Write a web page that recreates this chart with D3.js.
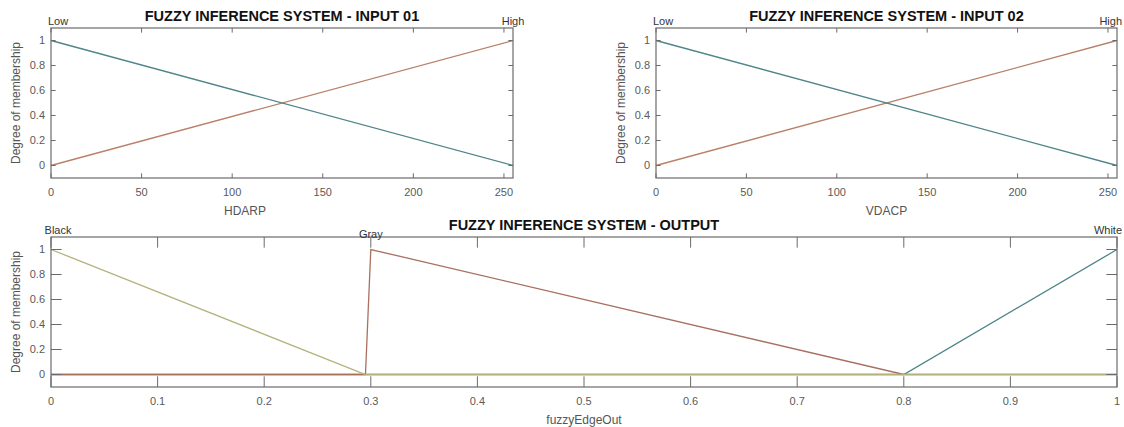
<!DOCTYPE html>
<html>
<head>
<meta charset="utf-8">
<script src="https://cdn.jsdelivr.net/npm/d3@7"></script>
<style>
  body { margin: 0; background: #fff; }
  svg { display: block; font-family: "Liberation Sans", Arial, sans-serif; }
</style>
</head>
<body>
<div id="chart"></div>
<script>
// input 01 / input 02 (same membership functions, range 0..255)
const inputRange = [0, 255];
const inputTicks = [0, 50, 100, 150, 200, 250];
const lowX = [0, 255];
const lowY = [1, 0];
const highX = [0, 255];
const highY = [0, 1];

// output fuzzyEdgeOut, range 0..1
const outputRange = [0, 1];
const outputTicks = [0, 0.1, 0.2, 0.3, 0.4, 0.5, 0.6, 0.7, 0.8, 0.9, 1];
const blackX = [0, 0.295, 1];
const blackY = [1, 0, 0];
const grayX = [0, 0.295, 0.3, 0.8, 1];
const grayY = [0, 0, 1, 0, 0];
const whiteX = [0, 0.8, 1];
const whiteY = [0, 0, 1];

const yTicks = [0, 0.2, 0.4, 0.6, 0.8, 1];

const width = 1124, height = 427;
const svg = d3.select("#chart").append("svg")
  .attr("width", width).attr("height", height);
svg.append("rect").attr("width", width).attr("height", height).attr("fill", "#fff");

const teal = "#4f8589", orange = "#b98068", yellow = "#b3b27a", red = "#a8705e";

function panel({ box, domain, ticks, fmt, mfs, title, xlabel, xlabelShift = 0 }) {
  const [left, top, right, bottom] = box;
  const x = d3.scaleLinear().domain(domain).range([left, right]);
  const y = d3.scaleLinear().domain([-0.1, 1.1]).range([bottom, top]);
  const tickLen = 0.01 * Math.max(right - left, bottom - top);
  const g = svg.append("g");

  // lines (drawn last-first so the first mf sits on top, like the picture)
  const line = d3.line().x(d => x(d[0])).y(d => y(d[1]));
  g.append("g").selectAll("path")
    .data(mfs.slice().reverse())
    .join("path")
    .attr("fill", "none")
    .attr("stroke", d => d.color)
    .attr("stroke-width", 1.3)
    .attr("d", d => line(d3.zip(d.xs, d.ys)));

  // box + inward ticks on all four sides
  const axisColor = "#6b6b6b";
  g.append("rect")
    .attr("x", left).attr("y", top)
    .attr("width", right - left).attr("height", bottom - top)
    .attr("fill", "none").attr("stroke", axisColor).attr("stroke-width", 1.2);

  const xt = g.append("g").attr("stroke", axisColor).attr("stroke-width", 1);
  ticks.forEach(t => {
    xt.append("line").attr("x1", x(t)).attr("x2", x(t)).attr("y1", bottom).attr("y2", bottom - tickLen);
    xt.append("line").attr("x1", x(t)).attr("x2", x(t)).attr("y1", top).attr("y2", top + tickLen);
  });
  yTicks.forEach(t => {
    xt.append("line").attr("x1", left).attr("x2", left + tickLen).attr("y1", y(t)).attr("y2", y(t));
    xt.append("line").attr("x1", right).attr("x2", right - tickLen).attr("y1", y(t)).attr("y2", y(t));
  });

  g.append("g").selectAll("text").data(ticks).join("text")
    .attr("x", d => x(d)).attr("y", bottom + 18)
    .attr("text-anchor", "middle")
    .attr("font-size", 11).attr("fill", "#5a5a5a")
    .text(fmt);

  g.append("g").selectAll("text").data(yTicks).join("text")
    .attr("x", left - 6).attr("y", d => y(d)).attr("dy", "0.35em")
    .attr("text-anchor", "end")
    .attr("font-size", 11).attr("fill", "#5a5a5a")
    .text(d3.format("~g"));

  // axis labels
  g.append("text")
    .attr("transform", `translate(${left - 35},${(top + bottom) / 2}) rotate(-90)`)
    .attr("dy", "0.35em")
    .attr("text-anchor", "middle").attr("font-size", 12).attr("fill", "#555")
    .text("Degree of membership");

  g.append("text")
    .attr("x", (left + right) / 2 + xlabelShift).attr("y", bottom + 37)
    .attr("text-anchor", "middle").attr("font-size", 12).attr("fill", "#555")
    .text(xlabel);

  g.append("text")
    .attr("x", (left + right) / 2).attr("y", top - 7)
    .attr("text-anchor", "middle").attr("font-size", 14.5).attr("font-weight", "bold")
    .attr("fill", "#111")
    .text(title);

  // mf names at the peak of each function
  mfs.forEach(d => {
    const peak = d.xs[d.ys.indexOf(1)];
    const t = g.append("text")
      .attr("y", top + (d.dy || -3))
      .attr("text-anchor", "middle").attr("font-size", 11).attr("fill", "#333")
      .text(d.name);
    const w = t.node().getComputedTextLength();
    let cx = Math.max(x(peak), left + 7);
    cx = Math.min(cx, width - 2 - w / 2);
    t.attr("x", cx);
  });
}

panel({
  box: [51, 28, 513, 178],
  domain: inputRange, ticks: inputTicks, fmt: d3.format("~g"),
  mfs: [
    { name: "Low", xs: lowX, ys: lowY, color: teal },
    { name: "High", xs: highX, ys: highY, color: orange }
  ],
  title: "FUZZY INFERENCE SYSTEM - INPUT 01", xlabel: "HDARP", xlabelShift: -37
});

panel({
  box: [656, 28, 1117, 178],
  domain: inputRange, ticks: inputTicks, fmt: d3.format("~g"),
  mfs: [
    { name: "Low", xs: lowX, ys: lowY, color: teal },
    { name: "High", xs: highX, ys: highY, color: orange }
  ],
  title: "FUZZY INFERENCE SYSTEM - INPUT 02", xlabel: "VDACP"
});

panel({
  box: [51, 237, 1117, 387],
  domain: outputRange, ticks: outputTicks, fmt: d3.format("~g"),
  mfs: [
    { name: "Black", xs: blackX, ys: blackY, color: yellow },
    { name: "Gray", xs: grayX, ys: grayY, color: red, dy: 1 },
    { name: "White", xs: whiteX, ys: whiteY, color: teal }
  ],
  title: "FUZZY INFERENCE SYSTEM - OUTPUT", xlabel: "fuzzyEdgeOut"
});
</script>
</body>
</html>
